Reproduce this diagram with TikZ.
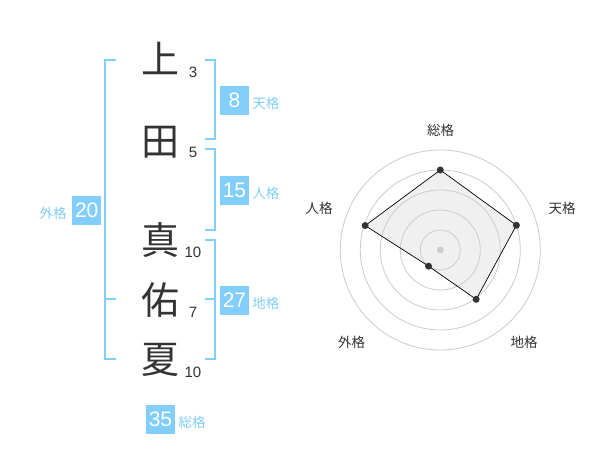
\documentclass[tikz,border=0pt]{standalone}
\usepackage{fontspec}
\setmainfont{Liberation Sans}
\newfontfamily\jp{Noto Sans CJK JP}
\definecolor{sky}{RGB}{130,206,252}
\definecolor{ink}{RGB}{51,51,51}
\definecolor{ring}{RGB}{204,204,204}
\definecolor{polyfill}{RGB}{240,240,240}
\begin{document}
\begin{tikzpicture}[x=1pt,y=-1pt,
  kanji/.style={font=\jp\fontsize{38}{38}\selectfont, text=ink, inner sep=0pt},
  strokes/.style={font=\fontsize{15}{15}\selectfont, text=ink, inner sep=0pt},
  numbox/.style={fill=sky, text=white, minimum width=29pt, minimum height=29pt, inner sep=0pt, font=\fontsize{21}{21}\selectfont},
  kaku/.style={font=\jp\fontsize{13.5}{13.5}\selectfont, text=sky, inner sep=0pt},
  axislabel/.style={font=\jp\fontsize{13.5}{13.5}\selectfont, text=ink, inner sep=0pt},
  bracket/.style={draw=sky, line width=2pt},
  ringline/.style={draw=ring, line width=0.8pt},
  dot/.style={circle, fill=ink, minimum size=7pt, inner sep=0pt},
]
\useasboundingbox (0,0) rectangle (600,470);
\fill[white] (0,0) rectangle (600,470);

% Kanji
\node[kanji] (k1) at (160,58) {上};
\node[kanji] (k2) at (160,142) {田};
\node[kanji] (k3) at (160,240) {真};
\node[kanji] (k4) at (160,300) {佑};
\node[kanji] (k5) at (160,360) {夏};

% stroke counts
\node[strokes] (s1) at (193,72.7) {3};
\node[strokes] (s2) at (193,152.7) {5};
\node[strokes] (s3) at (193,252.3) {10};
\node[strokes] (s4) at (193,312.7) {7};
\node[strokes] (s5) at (193,372.7) {10};

% brackets
\draw[bracket] (116,60) -- (105,60) -- (105,359) -- (116,359);
\draw[bracket] (105,299) -- (116,299);
\draw[bracket] (205,60) -- (215,60) -- (215,139) -- (205,139);
\draw[bracket] (205,149) -- (215,149) -- (215,230) -- (205,230);
\draw[bracket] (205,240) -- (215,240) -- (215,359) -- (205,359);
\draw[bracket] (205,299) -- (215,299);

% boxes
\node[numbox] (b1) at (234.5,100.5) {8};
\node[kaku] (l1) at (265.8,103) {天格};
\node[numbox] (b2) at (234.5,190.5) {15};
\node[kaku] (l2) at (265.8,193) {人格};
\node[numbox] (b3) at (234.5,300.5) {27};
\node[kaku] (l3) at (265.8,303) {地格};
\node[numbox] (b4) at (86.7,210.5) {20};
\node[kaku] (l4) at (53,213) {外格};
\node[numbox] (b5) at (160.5,419.5) {35};
\node[kaku] (l5) at (192,422) {総格};

% radar
\begin{scope}[shift={(440.3,250)}]
  \coordinate (p1) at ({80*cos(90)},{-80*sin(90)});
  \coordinate (p2) at ({80*cos(18)},{-80*sin(18)});
  \coordinate (p3) at ({61*cos(-54)},{-61*sin(-54)});
  \coordinate (p4) at ({20*cos(-126)},{-20*sin(-126)});
  \coordinate (p5) at ({79*cos(162)},{-79*sin(162)});
  \fill[polyfill] (p1) -- (p2) -- (p3) -- (p4) -- (p5) -- cycle;
  \foreach \r in {20,40,60,80,100} \draw[ringline] (0,0) circle[radius=\r];
  \draw[black, line width=0.7pt] (p1) -- (p2) -- (p3) -- (p4) -- (p5) -- cycle;
  \node[circle, fill=ring, minimum size=7pt, inner sep=0pt] (c0) at (0,0) {};
  \foreach \i in {1,...,5} \node[dot] (d\i) at (p\i) {};
  \node[axislabel] (a1) at (0.4,-120) {総格};
  \node[axislabel] (a2) at (121.7,-42) {天格};
  \node[axislabel] (a3) at (83.7,92) {地格};
  \node[axislabel] (a4) at (-88.6,92) {外格};
  \node[axislabel] (a5) at (-121.3,-41.7) {人格};
\end{scope}
\end{tikzpicture}
\end{document}
